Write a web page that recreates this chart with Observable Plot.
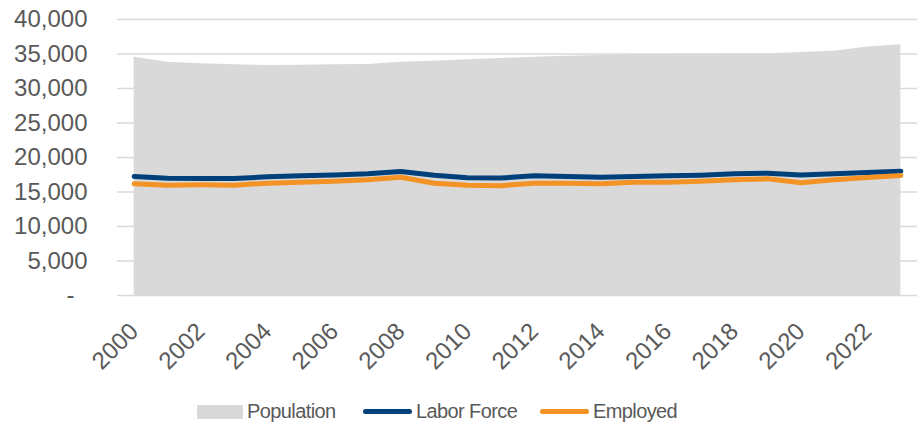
<!DOCTYPE html>
<html>
<head>
<meta charset="utf-8">
<script src="https://cdn.jsdelivr.net/npm/d3@7"></script>
<script src="https://cdn.jsdelivr.net/npm/@observablehq/plot@0.6"></script>
<style>
  html, body { margin: 0; padding: 0; background: #fff; }
  body { width: 922px; height: 426px; overflow: hidden; font-family: "Liberation Sans", Arial, sans-serif; }
  #legend { position: relative; height: 41px; color: #595959; font-size: 20px; letter-spacing: -0.6px; }
  .item { position: absolute; top: 6px; height: 41px; display: flex; align-items: center; }
  .sw-rect { width: 46px; height: 14px; background: #d9d9d9; margin-right: 4px; }
  .sw-line { width: 49px; height: 5px; border-radius: 3px; margin-right: 4px; }
</style>
</head>
<body>
<div id="chart"></div>
<div id="legend"></div>
<script>
const years = [2000, 2001, 2002, 2003, 2004, 2005, 2006, 2007, 2008, 2009, 2010, 2011,
               2012, 2013, 2014, 2015, 2016, 2017, 2018, 2019, 2020, 2021, 2022, 2023];
const population = [34540, 33810, 33580, 33430, 33330, 33380, 33430, 33480, 33810, 33960, 34150, 34350,
                    34540, 34690, 34780, 34880, 34930, 34980, 35000, 35000, 35200, 35400, 36030, 36330];
const laborForce = [17250, 17000, 16960, 16960, 17200, 17340, 17480, 17630, 17970, 17440, 17050, 17030,
                    17340, 17250, 17150, 17250, 17340, 17440, 17630, 17730, 17480, 17630, 17820, 18020];
const employed = [16180, 15990, 16040, 15990, 16280, 16430, 16570, 16760, 17150, 16280, 15990, 15920,
                  16280, 16280, 16180, 16430, 16430, 16570, 16760, 16910, 16330, 16760, 17100, 17390];
const yTicks = [0, 5000, 10000, 15000, 20000, 25000, 30000, 35000, 40000];
const xTicks = [2000, 2002, 2004, 2006, 2008, 2010, 2012, 2014, 2016, 2018, 2020, 2022];
const seriesNames = ["Population", "Labor Force", "Employed"];
const colors = { pop: "#d9d9d9", labor: "#00407a", emp: "#f39325" };

const data = years.map((year, i) => ({
  year, population: population[i], labor: laborForce[i], employed: employed[i]
}));

const fmt = d3.format(",");
const chart = Plot.plot({
  width: 922,
  height: 385,
  marginLeft: 117,
  marginRight: 5,
  marginTop: 19,
  marginBottom: 90,
  style: { fontFamily: "'Liberation Sans', Arial, sans-serif", color: "#595959", background: "#fff" },
  x: { domain: [1999.5, 2023.5] },
  y: { domain: [0, 40000] },
  marks: [
    Plot.ruleY(yTicks, { stroke: "#d9d9d9", strokeWidth: 1.5 }),
    Plot.areaY(data, { x: "year", y: "population", fill: colors.pop }),
    Plot.line(data, { x: "year", y: "labor", stroke: colors.labor, strokeWidth: 5 }),
    Plot.line(data, { x: "year", y: "employed", stroke: colors.emp, strokeWidth: 5 }),
    Plot.axisY({ ticks: yTicks, tickSize: 0, tickPadding: 30, fontSize: 24, label: null,
                 tickFormat: d => d === 0 ? "" : fmt(d) }),
    Plot.text([0], { y: d => d, frameAnchor: "left", dx: -47, text: () => "-", fontSize: 24,
                     fill: "#595959", textAnchor: "middle" }),
    Plot.axisX({ ticks: xTicks, tickSize: 0, tickPadding: 32, tickRotate: -45, fontSize: 24,
                 label: null, tickFormat: d => String(d) })
  ]
});
document.getElementById("chart").appendChild(chart);

const legend = document.getElementById("legend");
const items = [
  { name: seriesNames[0], left: 197, cls: "sw-rect", color: colors.pop },
  { name: seriesNames[1], left: 363, cls: "sw-line", color: colors.labor },
  { name: seriesNames[2], left: 540, cls: "sw-line", color: colors.emp }
];
for (const it of items) {
  const div = document.createElement("div");
  div.className = "item";
  div.style.left = it.left + "px";
  const sw = document.createElement("div");
  sw.className = it.cls;
  sw.style.background = it.color;
  const label = document.createElement("span");
  label.textContent = it.name;
  div.appendChild(sw);
  div.appendChild(label);
  legend.appendChild(div);
}
</script>
</body>
</html>
